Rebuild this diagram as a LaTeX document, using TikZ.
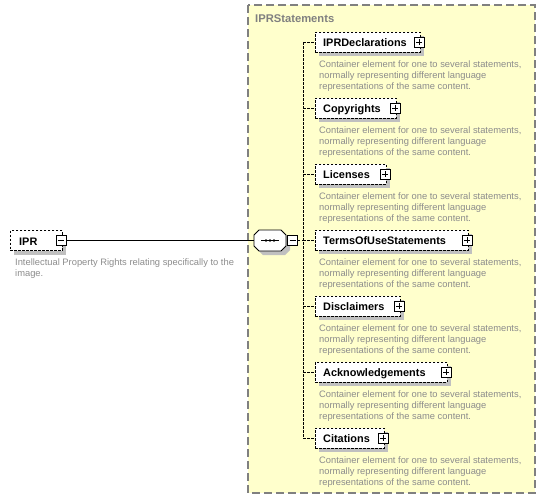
\documentclass[tikz,border=0pt]{standalone}
\usepackage{fontspec}
\setmainfont{Liberation Sans}
\definecolor{groupfill}{RGB}{255,255,204}
\definecolor{groupline}{RGB}{128,128,128}
\definecolor{shadowgray}{RGB}{192,192,192}
\definecolor{descgray}{RGB}{140,140,140}
\begin{document}
\begin{tikzpicture}[x=1pt,y=-1pt,
  shadowed/.style={preaction={fill=shadowgray,draw=none,transform canvas={shift={(4pt,-4pt)}}}},
  elembox/.style={draw,fill=white,dash pattern=on 2.5pt off 1.5pt,line width=0.8pt,
    minimum height=20pt,inner sep=0pt,anchor=west,shadowed},
  elemlabel/.style={anchor=base west,inner sep=0pt,font=\bfseries\fontsize{10.9}{12}\selectfont},
  desc/.style={anchor=north west,inner sep=0pt,align=left,text=descgray,
    font=\fontsize{9.35}{11}\selectfont},
  pmbox/.style={draw,fill=white,line width=0.9pt,minimum size=10pt,inner sep=0pt},
  minusbox/.style={pmbox,path picture={
    \draw[line width=0.8pt] ([xshift=2pt]path picture bounding box.west) -- ([xshift=-2pt]path picture bounding box.east);}},
  plusbox/.style={pmbox,path picture={
    \draw[line width=0.8pt] ([xshift=2pt]path picture bounding box.west) -- ([xshift=-2pt]path picture bounding box.east);
    \draw[line width=0.8pt] ([yshift=-2pt]path picture bounding box.north) -- ([yshift=2pt]path picture bounding box.south);}},
  branch/.style={dash pattern=on 2.5pt off 1.5pt,line width=0.8pt}
]
\useasboundingbox (0,0) rectangle (545,499);

% group container
\draw[fill=groupfill,draw=groupline,line width=1.2pt,dash pattern=on 8pt off 4pt]
  (248,5) rectangle (535,493);
\node[anchor=base west,inner sep=0pt,text=groupline,font=\bfseries\fontsize{11.2}{12}\selectfont]
  (grouplabel) at (255,22.5) {IPRStatements};

% root element
\node[elembox,minimum width=52pt] (ipr) at (10,240.5) {};
\node[elemlabel] (iprlabel) at (19,245) {IPR};
\node[minusbox] (iprpm) at (61,240.5) {};
\node[desc] (iprdesc) at (15,258.5) {Intellectual Property Rights relating specifically to the\\image.};

% sequence compositor
\coordinate (sq) at (270,240.5);
\draw[fill=white,line width=0.9pt,shadowed] (259,230) -- (281,230) -- (286,235) -- (286,246)
  -- (281,251) -- (259,251) -- (254,246) -- (254,235) -- cycle;
\node[inner sep=0pt,minimum width=32pt,minimum height=21pt] (seq) at (sq) {};
\draw[line width=0.8pt] (261,240.5) -- (279,240.5);
\foreach \dx in {266,270,274} \fill (\dx,240.5) circle (1.4pt);
\node[minusbox] (seqpm) at (292.5,240.5) {};

\draw[line width=0.8pt] (iprpm.east) -- (seq.west);

% children
\coordinate (trunktop) at (303,42);
\coordinate (trunkbot) at (303,438);
\draw[branch] (seqpm.east) -- (303,240.5);
\draw[branch] (trunktop) -- (trunkbot);

\foreach \nm/\lab/\rx [count=\i from 0] in {
  decl/IPRDeclarations/420,
  copy/Copyrights/396,
  lic/Licenses/386,
  terms/TermsOfUseStatements/468,
  disc/Disclaimers/400,
  ack/Acknowledgements/447,
  cit/Citations/384}{
  \pgfmathsetmacro{\cy}{42+66*\i}
  \pgfmathsetmacro{\w}{\rx-315}
  \node[elembox,minimum width=\w pt] (\nm) at (315,\cy) {};
  \node[elemlabel] (\nm label) at (323,\cy+4.5) {\lab};
  \node[plusbox] (\nm pm) at (\rx-1,\cy) {};
  \draw[branch] (303,\cy) -- (\nm.west);
  \node[desc] (\nm desc) at (319,\cy+19)
    {Container element for one to several statements,\\normally representing different language\\representations of the same content.};
}
\end{tikzpicture}
\end{document}
